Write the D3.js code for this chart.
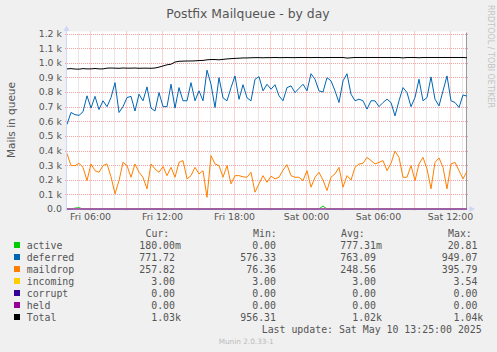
<!DOCTYPE html>
<html>
<head>
<meta charset="utf-8">
<script src="https://cdn.jsdelivr.net/npm/d3@7"></script>
<style>
  body { margin: 0; background: #f0f0f0; }
  svg { display: block; }
  text { font-family: "DejaVu Sans", sans-serif; fill: #555; }
  .mono { font-family: "DejaVu Sans Mono", monospace; white-space: pre; }
</style>
</head>
<body>
<div id="chart"></div>
<script>
// one sample every 20 minutes, Fri 04:05 -> Sat 13:25
const startTime = new Date(2025, 4, 9, 4, 5);
const stepMinutes = 20;

const active = [0, 0, 6, 9, 0, 0, 0, 0, 0, 0,
  0, 0, 0, 0, 0, 0, 0, 0, 0, 0,
  0, 0, 0, 0, 0, 0, 0, 0, 0, 0,
  0, 0, 0, 0, 0, 0, 0, 0, 0, 0,
  0, 0, 0, 0, 0, 0, 0, 0, 0, 0,
  0, 0, 0, 0, 0, 0, 0, 0, 0, 0,
  0, 0, 0, 0, 20.8, 0, 0, 0, 0, 0,
  0, 0, 0, 0, 0, 0, 0, 0, 0, 0,
  0, 0, 0, 0, 0, 0, 0, 0, 0, 0,
  0, 0, 0, 0, 0, 0, 0, 0, 0, 0, 0.18];

const deferred = [578, 660, 645, 640, 665, 774, 690, 770, 680, 740,
  700, 762, 864, 660, 700, 762, 770, 670, 785, 740,
  835, 690, 670, 796, 700, 700, 853, 690, 830, 740,
  740, 864, 740, 808, 740, 949, 853, 694, 898, 760,
  740, 830, 910, 750, 850, 760, 740, 887, 905, 808,
  853, 819, 850, 774, 740, 830, 842, 796, 825, 853,
  808, 925, 887, 808, 800, 898, 876, 808, 728, 876,
  925, 785, 740, 751, 740, 683, 740, 740, 700, 728,
  751, 728, 637, 740, 830, 796, 700, 762, 887, 740,
  762, 903, 751, 705, 808, 910, 740, 728, 694, 780, 772];

const maildrop = [380, 297, 297, 312, 285, 194, 308, 262, 251, 297,
  308, 220, 104, 194, 319, 297, 217, 308, 251, 217,
  138, 308, 274, 251, 290, 228, 285, 217, 319, 331,
  206, 228, 285, 240, 262, 80, 365, 308, 297, 217,
  297, 172, 228, 228, 220, 217, 251, 115, 172, 228,
  183, 224, 206, 217, 266, 303, 228, 217, 217, 194,
  262, 149, 217, 251, 198, 126, 217, 240, 285, 149,
  228, 198, 285, 308, 312, 353, 331, 308, 319, 331,
  262, 312, 396, 353, 217, 217, 297, 194, 308, 353,
  274, 138, 319, 349, 285, 138, 308, 319, 262, 206, 258];

const incoming = [3, 3, 3.5, 3, 3, 3, 3, 3, 3, 3,
  3, 3, 3, 3, 3, 3, 3, 3, 3, 3,
  3, 3, 3, 3, 3, 3, 3, 3, 3, 3,
  3, 3, 3, 3, 3, 3, 3.54, 3, 3, 3,
  3, 3, 3, 3, 3, 3, 3, 3, 3, 3,
  3, 3, 3, 3, 3, 3, 3, 3, 3, 3,
  3, 3, 3, 3, 3, 3, 3, 3, 3, 3,
  3, 3, 3, 3, 3, 3, 3, 3, 3, 3,
  3, 3, 3, 3, 3, 3, 3, 3, 3, 3,
  3, 3, 3, 3, 3, 3, 3, 3, 3, 3, 3];

const corrupt = [0, 0, 0, 0, 0, 0, 0, 0, 0, 0,
  0, 0, 0, 0, 0, 0, 0, 0, 0, 0,
  0, 0, 0, 0, 0, 0, 0, 0, 0, 0,
  0, 0, 0, 0, 0, 0, 0, 0, 0, 0,
  0, 0, 0, 0, 0, 0, 0, 0, 0, 0,
  0, 0, 0, 0, 0, 0, 0, 0, 0, 0,
  0, 0, 0, 0, 0, 0, 0, 0, 0, 0,
  0, 0, 0, 0, 0, 0, 0, 0, 0, 0,
  0, 0, 0, 0, 0, 0, 0, 0, 0, 0,
  0, 0, 0, 0, 0, 0, 0, 0, 0, 0, 0];

const held = [0, 0, 0, 0, 0, 0, 0, 0, 0, 0,
  0, 0, 0, 0, 0, 0, 0, 0, 0, 0,
  0, 0, 0, 0, 0, 0, 0, 0, 0, 0,
  0, 0, 0, 0, 0, 0, 0, 0, 0, 0,
  0, 0, 0, 0, 0, 0, 0, 0, 0, 0,
  0, 0, 0, 0, 0, 0, 0, 0, 0, 0,
  0, 0, 0, 0, 0, 0, 0, 0, 0, 0,
  0, 0, 0, 0, 0, 0, 0, 0, 0, 0,
  0, 0, 0, 0, 0, 0, 0, 0, 0, 0,
  0, 0, 0, 0, 0, 0, 0, 0, 0, 0, 0];

const total = [958, 960, 957, 956, 960, 958, 958, 961, 958, 958,
  963, 964, 963, 962, 964, 963, 963, 964, 962, 963,
  963, 962, 964, 970, 978, 986, 990, 1005, 1010, 1011,
  1012, 1012, 1013, 1015, 1016, 1020, 1022, 1022, 1020, 1023,
  1026, 1028, 1030, 1031, 1033, 1033, 1034, 1035, 1035, 1034,
  1035, 1035, 1036, 1035, 1035, 1036, 1035, 1035, 1036, 1036,
  1036, 1035, 1036, 1036, 1035, 1036, 1036, 1036, 1036, 1036,
  1032, 1034, 1036, 1036, 1036, 1036, 1036, 1036, 1036, 1036,
  1036, 1036, 1036, 1036, 1033, 1036, 1036, 1036, 1034, 1036,
  1036, 1036, 1036, 1036, 1036, 1036, 1036, 1036, 1036, 1036, 1034];

const seriesNames = ['active', 'deferred', 'maildrop', 'incoming', 'corrupt', 'held', 'Total'];
const seriesColors = ['#00cc00', '#0066b3', '#ff8000', '#ffcc00', '#330099', '#990099', '#000000'];
const seriesData = [active, deferred, maildrop, incoming, corrupt, held, total];

const curText = ['180.00m', '771.72 ', '257.82 ', '  3.00 ', '  0.00 ', '  0.00 ', '  1.03k'];
const minText = ['  0.00 ', '576.33 ', ' 76.36 ', '  3.00 ', '  0.00 ', '  0.00 ', '956.31 '];
const avgText = ['777.31m', '763.09 ', '248.56 ', '  3.00 ', '  0.00 ', '  0.00 ', '  1.02k'];
const maxText = [' 20.81 ', '949.07 ', '395.79 ', '  3.54 ', '  0.00 ', '  0.00 ', '  1.04k'];

const yTicks = [0, 100, 200, 300, 400, 500, 600, 700, 800, 900, 1000, 1100, 1200];
const yTickLabels = ['0.0', '0.1 k', '0.2 k', '0.3 k', '0.4 k', '0.5 k', '0.6 k', '0.7 k', '0.8 k', '0.9 k', '1.0 k', '1.1 k', '1.2 k'];

const width = 497, height = 352;
const plot = { left: 67, right: 467, top: 33.5, bottom: 209 };

const svg = d3.select('#chart').append('svg')
  .attr('width', width)
  .attr('height', height);

svg.append('rect').attr('width', width).attr('height', height).attr('fill', '#f0f0f0');

const times = total.map((d, i) => d3.timeMinute.offset(startTime, i * stepMinutes));

const x = d3.scaleTime()
  .domain([times[0], times[times.length - 1]])
  .range([plot.left, plot.right]);

const y = d3.scaleLinear()
  .domain([0, 1200])
  .range([plot.bottom, plot.top]);

// canvas
svg.append('rect')
  .attr('x', plot.left).attr('y', plot.top - 2)
  .attr('width', plot.right - plot.left).attr('height', plot.bottom - plot.top + 2)
  .attr('fill', '#ffffff');

// vertical grid: hourly minor, 3-hourly major
const hours = d3.timeHour.range(x.domain()[0], x.domain()[1]);
hours.forEach(h => {
  const major = h.getHours() % 3 === 0;
  const xx = Math.round(x(h)) + 0.5;
  svg.append('line')
    .attr('x1', xx).attr('x2', xx)
    .attr('y1', plot.top - (major ? 2 : 0)).attr('y2', plot.bottom + (major ? 2 : 0))
    .attr('stroke', major ? '#f4a3a3' : '#cfcfcf')
    .attr('stroke-width', 1)
    .attr('stroke-dasharray', '1,1');
});

// horizontal grid
svg.append('g').selectAll('line')
  .data(yTicks.filter(d => d > 0))
  .enter().append('line')
  .attr('x1', plot.left - 2).attr('x2', plot.right + 2)
  .attr('y1', d => Math.round(y(d)) + 0.5).attr('y2', d => Math.round(y(d)) + 0.5)
  .attr('stroke', '#f4a3a3')
  .attr('stroke-dasharray', '1,1');

// y tick labels
svg.append('g').selectAll('text')
  .data(yTicks)
  .enter().append('text')
  .attr('x', 62)
  .attr('y', d => y(d))
  .attr('dy', '0.36em')
  .attr('text-anchor', 'end')
  .style('font-size', '9.4px')
  .text((d, i) => yTickLabels[i]);

// x tick labels
const xAxis = d3.axisBottom(x)
  .ticks(d3.timeHour.every(6))
  .tickFormat(d3.timeFormat('%a %H:%M'))
  .tickSize(0)
  .tickPadding(0);

const xg = svg.append('g')
  .attr('transform', `translate(0,${plot.bottom})`)
  .call(xAxis);
xg.select('.domain').remove();
xg.selectAll('text')
  .attr('y', 11)
  .attr('dy', 0)
  .attr('fill', '#555')
  .style('font-family', '"DejaVu Sans", sans-serif')
  .style('font-size', '9.4px');

// right edge line
svg.append('line')
  .attr('x1', plot.right - 0.5).attr('x2', plot.right - 0.5)
  .attr('y1', plot.top - 1).attr('y2', plot.bottom)
  .attr('stroke', '#9a9a9a');

// series
const line = d3.line()
  .x((d, i) => x(times[i]))
  .y(d => y(d));

seriesData.forEach((data, k) => {
  svg.append('path')
    .datum(data)
    .attr('fill', 'none')
    .attr('stroke', seriesColors[k])
    .attr('stroke-width', 1)
    .attr('stroke-linejoin', 'round')
    .attr('d', line);
});

// axes with arrows, painted over the data like rrdtool does
svg.append('line')
  .attr('x1', plot.left - 0.5).attr('x2', plot.left - 0.5)
  .attr('y1', plot.bottom + 2).attr('y2', 28)
  .attr('stroke', '#cfd6f8');
svg.append('path')
  .attr('d', `M${plot.left - 3.5},31 L${plot.left + 2.5},31 L${plot.left - 0.5},25.5 Z`)
  .attr('fill', '#cfd6f8');
svg.append('line')
  .attr('x1', plot.left - 2).attr('x2', 471)
  .attr('y1', plot.bottom).attr('y2', plot.bottom)
  .attr('stroke', '#cfd6f8')
  .attr('stroke-opacity', 0.55);
svg.append('path')
  .attr('d', `M469.5,${plot.bottom - 3} L469.5,${plot.bottom + 3} L475,${plot.bottom} Z`)
  .attr('fill', '#cfd6f8');

// titles
svg.append('text')
  .attr('x', 248).attr('y', 18.3)
  .attr('text-anchor', 'middle')
  .style('font-size', '12.4px')
  .text('Postfix Mailqueue - by day');

svg.append('text')
  .attr('transform', 'translate(14.5,120) rotate(-90)')
  .attr('text-anchor', 'middle')
  .style('font-size', '10.5px')
  .text('Mails in queue');

svg.append('text')
  .attr('transform', 'translate(488,5) rotate(90)')
  .attr('text-anchor', 'start')
  .style('font-size', '8px')
  .style('fill', '#c4c4c4')
  .text('RRDTOOL / TOBI OETIKER');

// legend
const legend = svg.append('g').attr('class', 'legend');
const fs = '9.9px';
const headers = [['Cur:', 145.5], ['Min:', 253], ['Avg:', 341], ['Max:', 448]];
headers.forEach(h => {
  legend.append('text').attr('class', 'mono')
    .attr('x', h[1]).attr('y', 237)
    .style('font-size', fs)
    .text(h[0]);
});

seriesNames.forEach((name, i) => {
  const by = 249 + i * 12;
  legend.append('rect')
    .attr('x', 14).attr('y', by - 7)
    .attr('width', 6).attr('height', 6)
    .attr('fill', seriesColors[i]);
  legend.append('text').attr('class', 'mono')
    .attr('x', 26.7).attr('y', by).style('font-size', fs).text(name);
  [[curText, 139.3], [minText, 240.3], [avgText, 340.3], [maxText, 441.7]].forEach(col => {
    legend.append('text').attr('class', 'mono')
      .attr('x', col[1]).attr('y', by).style('font-size', fs)
      .text(col[0][i]);
  });
});

legend.append('text').attr('class', 'mono')
  .attr('x', 261.7).attr('y', 333)
  .style('font-size', fs)
  .text('Last update: Sat May 10 13:25:00 2025');

svg.append('text')
  .attr('x', 218.7).attr('y', 343.5)
  .style('font-size', '7.3px')
  .style('fill', '#bbbbbb')
  .text('Munin 2.0.33-1');
</script>
</body>
</html>
